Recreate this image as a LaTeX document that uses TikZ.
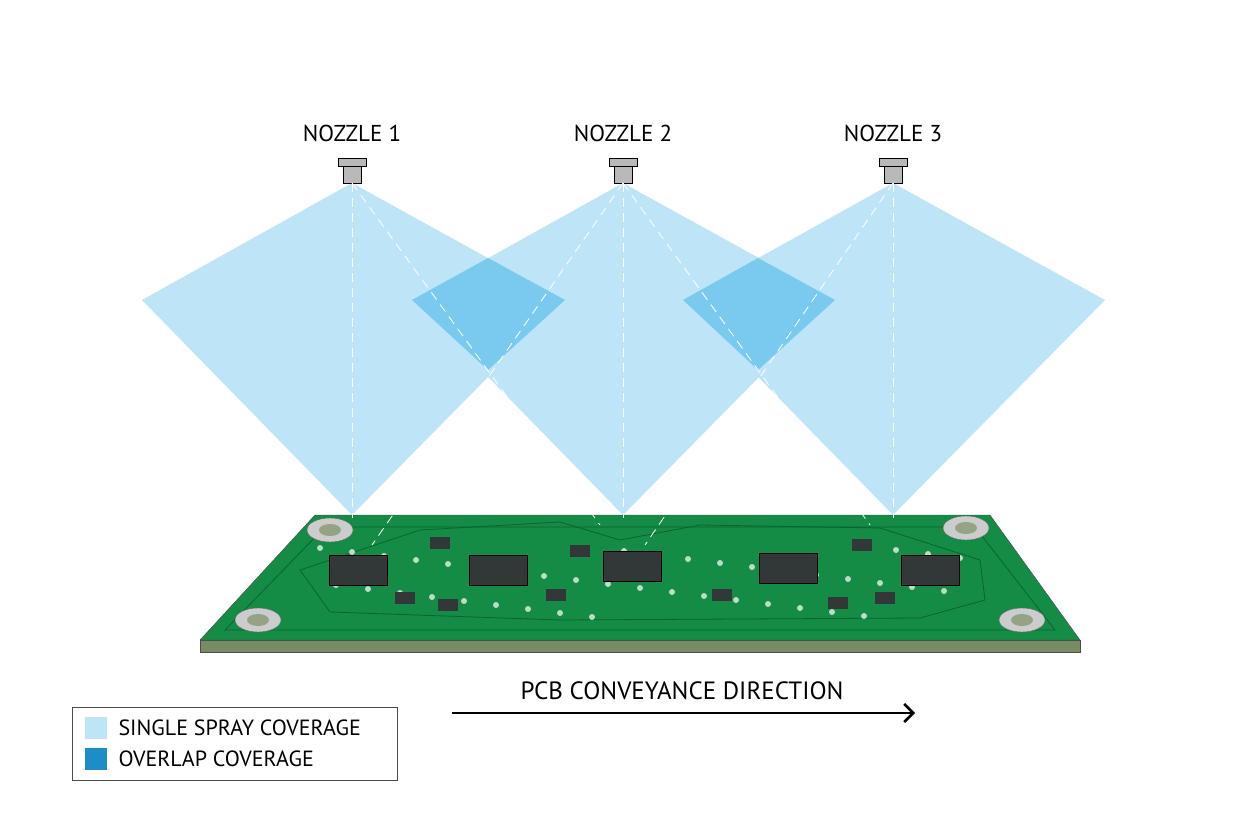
\documentclass[tikz,border=0pt]{standalone}
\usepackage{fontspec}
\usetikzlibrary{shapes.geometric,arrows.meta}
\setmainfont{PT Sans}
\definecolor{spray}{RGB}{190,228,247}
\definecolor{overlap}{RGB}{122,202,240}
\definecolor{legdark}{RGB}{30,140,200}
\definecolor{board}{RGB}{20,140,70}
\definecolor{boardedge}{RGB}{120,140,100}
\definecolor{trace}{RGB}{10,100,50}
\definecolor{chip}{RGB}{50,55,55}
\begin{document}
\begin{tikzpicture}
[x=1pt,y=-1pt,
 label/.style ={font=\fontsize{23}{23}\selectfont},
 nozzle/.style ={draw=black, fill=gray!55, line width=0.8pt},
 dashline/.style ={draw=white, thick, dash pattern=on 9pt off 6pt},
 ic/.style ={draw=black, fill=chip, minimum width=58pt, minimum height=30pt, inner sep=0pt},
 hole/.style ={draw=black!60, fill=gray!40, ellipse, minimum width=46pt, minimum height=24pt},
 swatch/.style ={minimum size=22pt, inner sep=0pt}]
\useasboundingbox (0,0) rectangle (1248,832);
% spray cones
\foreach \x/\n in {352/1,623/2,893/3}{
  \fill[spray] (\x,183) -- (\x-210,300) -- (\x,515) -- (\x+212,300) -- cycle;
  \coordinate (tip\n) at (\x,183);
  \coordinate (foot\n) at (\x,518);
  \node[label] (lab\n) at (\x,133) {NOZZLE \n};
  \draw[nozzle] (\x-9,166) rectangle (\x+9,183);
  \draw[nozzle] (\x-14,158) rectangle (\x+14,166);
}
\fill[overlap] (488,258) -- (412,300) -- (488,370) -- (565,300) -- cycle;
\fill[overlap] (758,258) -- (683,300) -- (758,370) -- (835,300) -- cycle;
% board
\fill[boardedge] (200,640) -- (1080,640) -- (1080,652) -- (200,652) -- cycle;
\draw[black!70] (200,640) -- (1080,640) -- (1080,652) -- (200,652) -- cycle;
\filldraw[fill=board, draw=black!70] (315,515) -- (990,515) -- (1080,640) -- (200,640) -- cycle;
\draw[trace, thick] (325,527) -- (975,527) -- (1055,630) -- (225,630) -- cycle;
\draw[trace, thick] (420,530) -- (560,522) -- (620,540) -- (700,525) -- (880,528) -- (980,560) -- (985,600)
  -- (920,618) -- (560,620) -- (330,612) -- (300,570) -- cycle;
\foreach \i in {0,...,40}{
  \fill[white!70!board] ({320+\i*16},{548+mod(\i*37,70)}) circle (3pt);
}
\node[hole] (h1) at (330,530) {};
\node[hole] (h2) at (258,620) {};
\node[hole] (h3) at (966,528) {};
\node[hole] (h4) at (1022,620) {};
\foreach \p in {h1,h2,h3,h4}
  \fill[boardedge!80] (\p) ellipse (11pt and 6pt);
\foreach \x/\y/\n in {358/570/1,498/570/2,632/566/3,788/568/4,930/570/5}
  \node[ic] (ic\n) at (\x,\y) {};
\foreach \x/\y in {440/543,405/598,448/605,580/551,722/595,838/603,862/545,885/598,556/595}
  \fill[chip] (\x-10,\y-6) rectangle (\x+10,\y+6);
% dashed guides
\foreach \n in {1,2,3}
  \draw[dashline] (tip\n) -- (foot\n);
\draw[dashline] (tip1) -- (600,525);
\draw[dashline] (tip2) -- (372,545);
\draw[dashline] (tip2) -- (870,525);
\draw[dashline] (tip3) -- (645,545);
% direction arrow
\coordinate (dirA) at (452,713);
\coordinate (dirB) at (915,713);
\draw[line width=2.5pt, -{Straight Barb[length=9pt,width=18pt]}] (dirA) -- (dirB);
\node[label, font=\fontsize{25}{25}\selectfont] (dir) at (682,691) {PCB CONVEYANCE DIRECTION};
% legend
\draw[black!70] (72,707) rectangle (397,780);
\node[swatch, fill=spray] (s1) at (96,728) {};
\node[swatch, fill=legdark] (s2) at (96,759) {};
\node[label, anchor=west, font=\fontsize{22}{22}\selectfont] (t1) at (115,728) {SINGLE SPRAY COVERAGE};
\node[label, anchor=west, font=\fontsize{22}{22}\selectfont] (t2) at (115,759) {OVERLAP COVERAGE};
\end{tikzpicture}
\end{document}
